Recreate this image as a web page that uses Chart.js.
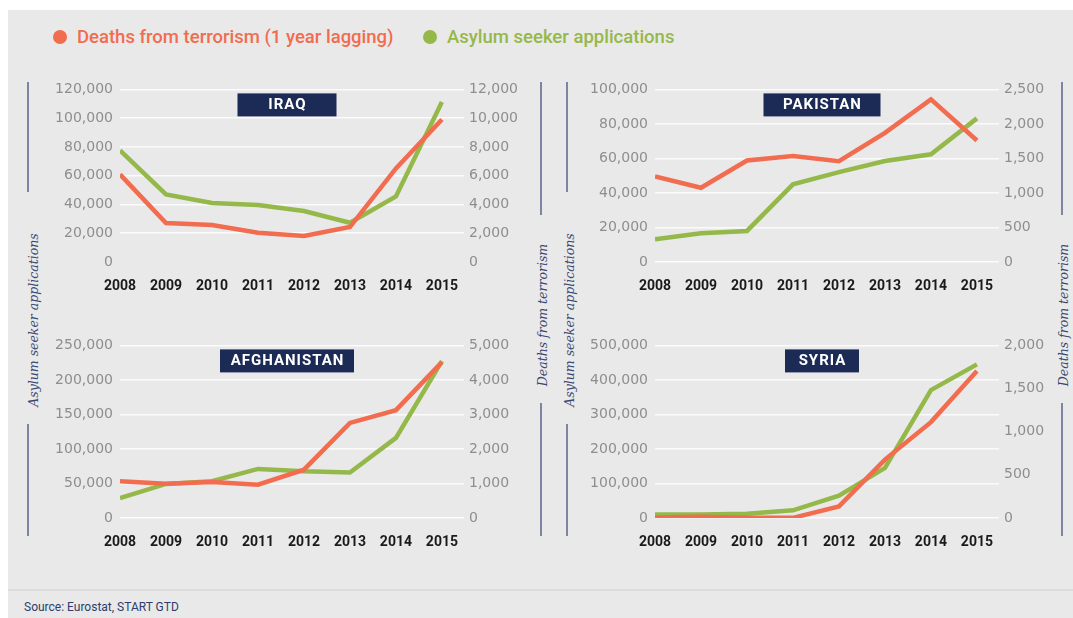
<!DOCTYPE html>
<html>
<head>
<meta charset="utf-8">
<script src="https://cdn.jsdelivr.net/npm/chart.js@4.4.1/dist/chart.umd.min.js"></script>
<style>
  body { margin: 0; width: 1073px; height: 618px; background: #fff; position: relative; overflow: hidden; font-family: Roboto, sans-serif; }
  #bg { position: absolute; left: 8px; top: 10px; width: 1065px; height: 608px; background: #e9e9e9; }
  #sep { position: absolute; left: 8px; top: 589px; width: 1065px; height: 2px; background: #dcdcdc; }
  .legend { position: absolute; top: 26px; height: 22px; font-size: 18.5px; font-weight: 500; display: flex; align-items: center; white-space: nowrap; }
  .dot { display: inline-block; width: 14px; height: 14px; border-radius: 50%; margin-right: 10px; }
  .panel { position: absolute; width: 484px; height: 234px; }
  .vline { position: absolute; width: 2px; background: #7d85a3; }
  .vtitle { position: absolute; transform: translate(-50%, -50%) rotate(-90deg); font-family: 'DejaVu Serif', serif; font-style: italic; font-size: 12.5px; color: #3a4670; white-space: nowrap; }
  #source { position: absolute; left: 24px; top: 600px; font-size: 12px; color: #2e3d6b; }
</style>
</head>
<body>
<div id="bg"></div>
<div id="sep"></div>

<div class="legend" style="left:53px;color:#f26c4f"><span class="dot" style="background:#f26c4f"></span>Deaths from terrorism (1 year lagging)</div>
<div class="legend" style="left:423px;color:#95b84a"><span class="dot" style="background:#95b84a"></span>Asylum seeker applications</div>

<!-- side titles -->
<div class="vline" style="left:27px;top:82px;height:110px"></div>
<div class="vtitle" style="left:33px;top:320px">Asylum seeker applications</div>
<div class="vline" style="left:27px;top:424px;height:112px"></div>

<div class="vline" style="left:540px;top:82px;height:133px"></div>
<div class="vtitle" style="left:542px;top:315px">Deaths from terrorism</div>
<div class="vline" style="left:540px;top:403px;height:133px"></div>

<div class="vline" style="left:566px;top:82px;height:110px"></div>
<div class="vtitle" style="left:569px;top:320px">Asylum seeker applications</div>
<div class="vline" style="left:566px;top:424px;height:112px"></div>

<div class="vline" style="left:1061px;top:82px;height:133px"></div>
<div class="vtitle" style="left:1063px;top:315px">Deaths from terrorism</div>
<div class="vline" style="left:1061px;top:403px;height:133px"></div>

<div class="panel" style="left:50px;top:74px"><canvas id="iraq"></canvas></div>
<div class="panel" style="left:585px;top:74px"><canvas id="pakistan"></canvas></div>
<div class="panel" style="left:50px;top:330px"><canvas id="afghanistan"></canvas></div>
<div class="panel" style="left:585px;top:330px"><canvas id="syria"></canvas></div>

<div id="source">Source: Eurostat, START GTD</div>

<script>
// years on the x axis
const years = [2008, 2009, 2010, 2011, 2012, 2013, 2014, 2015];

// Iraq
const iraqAsylum = [77600, 47000, 41000, 39600, 35400, 27300, 45600, 111200];
const iraqDeaths = [6090, 2710, 2570, 2040, 1810, 2430, 6510, 9910];
const iraqAsylumTicks = [0, 20000, 40000, 60000, 80000, 100000, 120000];
const iraqDeathTicks = [0, 2000, 4000, 6000, 8000, 10000, 12000];

// Pakistan
const pakistanAsylum = [13100, 16600, 18000, 45000, 52100, 58500, 62400, 83200];
const pakistanDeaths = [1240, 1075, 1470, 1535, 1460, 1870, 2355, 1760];
const pakistanAsylumTicks = [0, 20000, 40000, 60000, 80000, 100000];
const pakistanDeathTicks = [0, 500, 1000, 1500, 2000, 2500];

// Afghanistan
const afghanAsylum = [29000, 49300, 53200, 71100, 67700, 65800, 116000, 227300];
const afghanDeaths = [1065, 990, 1045, 965, 1400, 2755, 3125, 4515];
const afghanAsylumTicks = [0, 50000, 100000, 150000, 200000, 250000];
const afghanDeathTicks = [0, 1000, 2000, 3000, 4000, 5000];

// Syria
const syriaAsylum = [9800, 9800, 12600, 22300, 64800, 145100, 370500, 445000];
const syriaDeaths = [5, 15, 3, 2, 135, 677, 1111, 1703];
const syriaAsylumTicks = [0, 100000, 200000, 300000, 400000, 500000];
const syriaDeathTicks = [0, 500, 1000, 1500, 2000];

const ORANGE = '#f26c4f';
const GREEN = '#95b84a';

// dark box with the country name on top of each panel
const panelTitle = {
  id: 'panelTitle',
  beforeDatasetsDraw(chart, args, opts) {
    const a = chart.chartArea;
    const ctx = chart.ctx;
    const cx = (a.left + a.right) / 2 - 5;
    ctx.save();
    ctx.fillStyle = '#1c2a56';
    ctx.fillRect(cx - opts.width / 2, a.top + 4, opts.width, 23);
    ctx.fillStyle = '#ffffff';
    ctx.font = 'bold 15px Roboto';
    ctx.letterSpacing = '1px';
    ctx.textAlign = 'center';
    ctx.textBaseline = 'middle';
    ctx.fillText(opts.text, cx + 0.5, a.top + 16);
    ctx.restore();
  }
};

function points(vals) {
  return years.map((y, i) => ({ x: y, y: vals[i] }));
}

function makePanel(id, name, boxWidth, asylum, deaths, asylumTicks, deathTicks, hideZero) {
  new Chart(document.getElementById(id), {
    type: 'line',
    data: {
      datasets: [{
        label: 'Deaths from terrorism (1 year lagging)',
        data: points(deaths),
        borderColor: ORANGE,
        yAxisID: 'yR'
      }, {
        label: 'Asylum seeker applications',
        data: points(asylum),
        borderColor: GREEN,
        yAxisID: 'yL'
      }]
    },
    options: {
      responsive: true,
      maintainAspectRatio: false,
      animation: false,
      layout: { padding: { top: 7 } },
      elements: {
        line: { borderWidth: 4.5, tension: 0 },
        point: { radius: 0 }
      },
      plugins: {
        legend: { display: false },
        tooltip: { enabled: false },
        panelTitle: { text: name, width: boxWidth }
      },
      scales: {
        x: {
          type: 'linear',
          min: 2008,
          max: 2015.48,
          afterBuildTicks: s => { s.ticks = years.map(v => ({ value: v })); },
          afterFit: s => { s.height = 46; },
          grid: { display: false, drawTicks: false },
          border: { display: false },
          ticks: {
            color: '#1a1a1a',
            font: { family: 'Roboto', size: 14, weight: 'bold' },
            padding: 16,
            maxRotation: 0,
            autoSkip: false,
            callback: v => String(v)
          }
        },
        yL: {
          position: 'left',
          min: 0,
          max: asylumTicks[asylumTicks.length - 1],
          afterBuildTicks: s => { s.ticks = asylumTicks.map(v => ({ value: v })); },
          afterFit: s => { s.width = 70; },
          grid: {
            drawTicks: false,
            lineWidth: 1.5,
            color: c => (hideZero && c.tick && c.tick.value === 0) ? 'rgba(0,0,0,0)' : '#fbfbfb'
          },
          border: { display: false },
          ticks: {
            color: '#8e8e8e',
            font: { family: 'DejaVu Sans', size: 14 },
            padding: 7,
            autoSkip: false,
            callback: v => v.toLocaleString('en-US')
          }
        },
        yR: {
          position: 'right',
          min: 0,
          max: deathTicks[deathTicks.length - 1],
          afterBuildTicks: s => { s.ticks = deathTicks.map(v => ({ value: v })); },
          afterFit: s => { s.width = 70; },
          grid: { drawOnChartArea: false, drawTicks: false },
          border: { display: false },
          ticks: {
            color: '#8e8e8e',
            font: { family: 'DejaVu Sans', size: 14 },
            padding: 5,
            autoSkip: false,
            callback: v => v.toLocaleString('en-US')
          }
        }
      }
    },
    plugins: [panelTitle]
  });
}

makePanel('iraq', 'IRAQ', 99, iraqAsylum, iraqDeaths, iraqAsylumTicks, iraqDeathTicks, true);
makePanel('pakistan', 'PAKISTAN', 117, pakistanAsylum, pakistanDeaths, pakistanAsylumTicks, pakistanDeathTicks, false);
makePanel('afghanistan', 'AFGHANISTAN', 134, afghanAsylum, afghanDeaths, afghanAsylumTicks, afghanDeathTicks, false);
makePanel('syria', 'SYRIA', 74, syriaAsylum, syriaDeaths, syriaAsylumTicks, syriaDeathTicks, false);
</script>
</body>
</html>
